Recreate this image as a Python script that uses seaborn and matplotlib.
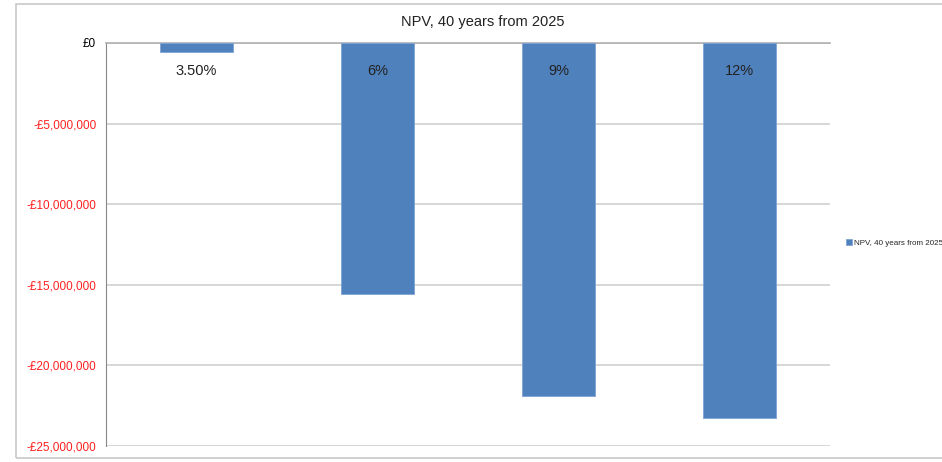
import matplotlib
matplotlib.use("Agg")
import matplotlib.pyplot as plt
import matplotlib.ticker as mticker
from matplotlib.patches import Rectangle
import seaborn as sns
import pandas as pd

# data
rates = ["3.50%", "6%", "9%", "12%"]
npv = [-560000, -15570000, -21900000, -23250000]
series_name = "NPV, 40 years from 2025"
yticks = [0, -5000000, -10000000, -15000000, -20000000, -25000000]

df = pd.DataFrame({"rate": rates, "npv": npv})

sns.set_style("white")
plt.rcParams["font.family"] = ["Liberation Sans", "DejaVu Sans"]

fig = plt.figure(figsize=(9.42, 4.62), dpi=100)
ax = fig.add_axes([106 / 942, 1 - 446 / 462, (830 - 106) / 942, (446 - 43) / 462])

# chart area border
fig.patches.append(Rectangle((16 / 942, 4 / 462), 1.0, 454 / 462, transform=fig.transFigure,
                             fill=False, edgecolor="#c8c8c8", linewidth=1.2, zorder=0))

sns.barplot(data=df, x="rate", y="npv", color="#4F81BD", saturation=1, width=0.4,
            edgecolor="#7fa3d3", linewidth=0.6, ax=ax, zorder=3)

ax.set_ylim(-25000000, 0)
ax.set_xlim(-0.5, len(rates) - 0.5)
ax.set_yticks(yticks)
ax.yaxis.set_major_formatter(mticker.FuncFormatter(
    lambda v, p: "£0" if v == 0 else "-£{:,.0f}".format(abs(v))))
for lab in ax.get_yticklabels():
    lab.set_color("black" if lab.get_text() == "£0" else "#ff2020")
ax.tick_params(axis="y", labelsize=8.5, length=3, color="#888888", pad=4, direction="out")
ax.grid(axis="y", color="#d4d4d4", linewidth=1.3)
ax.set_axisbelow(True)
# category labels sit on top of the bars
ax.xaxis.set_zorder(5)

# category axis crosses at zero
ax.spines["bottom"].set_position(("data", 0))
ax.spines["bottom"].set_color("#b0b0b0")
ax.spines["bottom"].set_linewidth(1.2)
ax.spines["top"].set_visible(False)
ax.spines["right"].set_visible(False)
ax.spines["left"].set_color("#888888")
ax.tick_params(axis="x", which="major", length=0, labelsize=10.5, pad=15, labelcolor="#222222")
ax.set_xticks([i + 0.5 for i in range(-1, len(rates))], minor=True)
ax.tick_params(axis="x", which="minor", length=3, color="#b0b0b0", direction="out")
ax.set_xlabel("")
ax.set_ylabel("")

ax.set_title(series_name, fontsize=10.5, pad=12, x=0.52, color="#222222")

ax.legend(handles=[ax.containers[0]], labels=[series_name], loc="center left",
          bbox_to_anchor=(839 / 942, 1 - 243 / 462), bbox_transform=fig.transFigure,
          frameon=False, fontsize=5.8, handlelength=0.7, handleheight=0.7, handletextpad=0.3)

fig.savefig("out.png", dpi=100)
